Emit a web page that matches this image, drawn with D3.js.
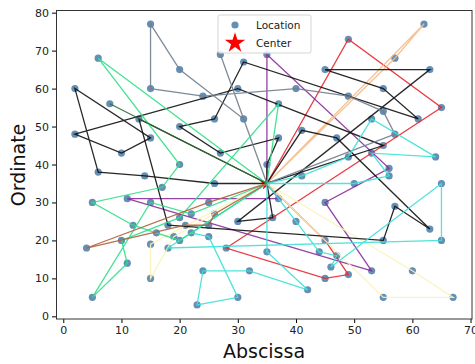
<!DOCTYPE html>
<html>
<head>
<meta charset="utf-8">
<script src="https://cdn.jsdelivr.net/npm/d3@7"></script>
<style>
body { margin: 0; background: #fff; }
text { font-family: "DejaVu Sans", sans-serif; }
</style>
</head>
<body>
<script>
// customer coordinates (index 0 = customer 1)
const locX = [41,35,55,55,15,25,20,10,55,30,20,50,30,15,30,10,5,20,15,45,45,45,55,65,65,45,35,41,64,40,
              31,35,53,65,63,2,20,5,60,40,42,24,23,11,6,2,8,13,6,47,49,27,37,57,63,53,32,36,21,17,
              12,24,27,15,62,49,67,56,37,37,57,47,44,46,49,49,53,61,57,56,55,15,14,11,16,4,28,26,26,31,
              15,22,18,26,25,22,25,19,20,18];
const locY = [49,17,45,20,30,30,50,43,60,60,65,35,25,10,5,20,30,40,60,65,20,10,5,35,20,30,40,37,42,60,
              52,69,52,55,65,60,20,5,12,25,7,12,3,14,38,48,56,52,68,47,58,43,31,29,23,12,12,26,24,34,
              24,58,69,77,77,73,5,39,47,56,68,16,17,13,11,42,43,52,48,37,54,47,37,31,22,18,18,52,35,67,
              19,22,24,27,24,27,21,21,26,18];
const depot = [35, 35];

// routes (customer numbers), each starts and ends at the depot
const routes = [
  [66,34,87,22,75,21],
  [32,68,26,56,84,53],
  [71,65],
  [39,67,23],
  [91,14,98],
  [89,83,45,36,82,8,46,10,3],
  [58,13,35,20,9,78,90,88,7,52,69,27],
  [1,50,55,54,4,93,48],
  [63,31,11,64,19,62,30,51,81,79],
  [28,76,33,29,77,80,12],
  [40,73,72,74,24,25,100],
  [2,41,57,42,43,15,97,92],
  [49,18,60,17,61,85,37],
  [70,99,16,44,38,5,96],
  [47],
  [6,86,59,95,94]
];
const routeColors = ["#e8262f","#8b2d9b","#f4bd8a","#fbf3b8","#fbf3b8","#111","#111","#111",
                     "#6f8090","#3fe0d8","#3fe0d8","#3fe0d8","#2fdf8a","#2fdf8a","#2e6e2e","#b0603c"];

const xTicks = [0,10,20,30,40,50,60,70];
const yTicks = [0,10,20,30,40,50,60,70,80];

const width = 475, height = 364;
const svg = d3.select("body").append("svg")
    .attr("width", width)
    .attr("height", height);

const x = d3.scaleLinear().domain([-1.25, 70.25]).range([56, 472]);
const y = d3.scaleLinear().domain([-0.7, 80.7]).range([319, 10]);

// axes
svg.append("g")
    .attr("transform", "translate(0,319)")
    .call(d3.axisBottom(x).tickValues(xTicks).tickSize(4).tickSizeOuter(0).tickPadding(3))
    .call(g => g.select(".domain").remove())
    .call(g => g.selectAll("text").attr("font-size", 11).attr("fill", "#222"));

svg.append("g")
    .attr("transform", "translate(56,0)")
    .call(d3.axisLeft(y).tickValues(yTicks).tickSize(4).tickSizeOuter(0).tickPadding(3))
    .call(g => g.select(".domain").remove())
    .call(g => g.selectAll("text").attr("font-size", 11).attr("fill", "#222"));

const plot = svg.append("g");

// center star (under the routes)
plot.append("path")
    .attr("d", d3.symbol(d3.symbolStar, 60)())
    .attr("transform", `translate(${x(depot[0])},${y(depot[1])})`)
    .attr("fill", "red");

// locations
plot.selectAll("circle.loc")
    .data(locX.map((d, i) => [d, locY[i]]))
    .join("circle")
    .attr("class", "loc")
    .attr("cx", d => x(d[0]))
    .attr("cy", d => y(d[1]))
    .attr("r", 3.6)
    .attr("fill", "#4a7ba6")
    .attr("opacity", 0.85);

// routes
const line = d3.line().x(d => x(d[0])).y(d => y(d[1]));
plot.selectAll("path.route")
    .data(routes)
    .join("path")
    .attr("class", "route")
    .attr("d", r => line([depot, ...r.map(c => [locX[c - 1], locY[c - 1]]), depot]))
    .attr("fill", "none")
    .attr("stroke", (r, i) => routeColors[i])
    .attr("stroke-width", 1.3)
    .attr("stroke-opacity", 0.9);

// frame
svg.append("rect")
    .attr("x", 56.5).attr("y", 10.5)
    .attr("width", 415.5).attr("height", 308.5)
    .attr("fill", "none")
    .attr("stroke", "#333")
    .attr("stroke-width", 1);

// legend
const lg = svg.append("g");
lg.append("rect")
    .attr("x", 218).attr("y", 15).attr("width", 93).attr("height", 38).attr("rx", 2)
    .attr("fill", "white").attr("fill-opacity", 0.85)
    .attr("stroke", "#d5d5d5");
lg.append("circle").attr("cx", 235).attr("cy", 25).attr("r", 3.6)
    .attr("fill", "#4a7ba6").attr("opacity", 0.85);
lg.append("path")
    .attr("d", d3.symbol(d3.symbolStar, 130)())
    .attr("transform", "translate(235,43)")
    .attr("fill", "red");
lg.append("text").attr("x", 256).attr("y", 29).attr("font-size", 10.5).attr("fill", "#222").text("Location");
lg.append("text").attr("x", 256).attr("y", 47).attr("font-size", 10.5).attr("fill", "#222").text("Center");

// axis titles
svg.append("text")
    .attr("x", 264).attr("y", 358)
    .attr("text-anchor", "middle")
    .attr("font-size", 19).attr("fill", "#111")
    .text("Abscissa");
svg.append("text")
    .attr("transform", "translate(25,165) rotate(-90)")
    .attr("text-anchor", "middle")
    .attr("font-size", 19).attr("fill", "#111")
    .text("Ordinate");
</script>
</body>
</html>
